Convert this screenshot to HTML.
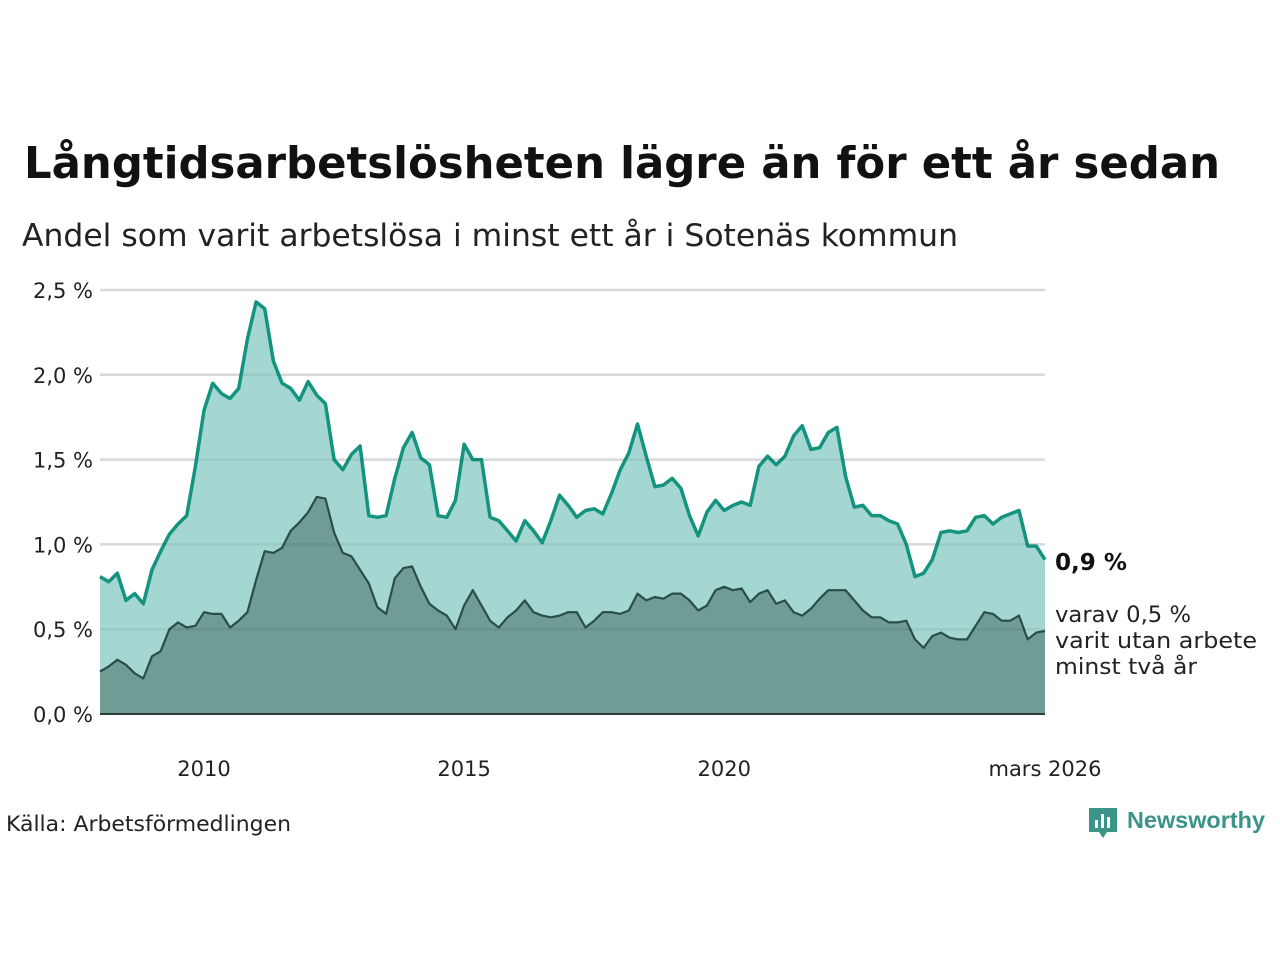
<!DOCTYPE html>
<html><head><meta charset="utf-8"><style>
html,body{margin:0;padding:0;background:#fff}
svg{display:block;font-family:"DejaVu Sans","Liberation Sans",sans-serif}
</style></head><body>
<svg id="chart" width="1280" height="960" viewBox="0 0 1280 960" xmlns="http://www.w3.org/2000/svg">
<text x="24" y="178" font-size="44" font-weight="bold" fill="#111" textLength="1196" lengthAdjust="spacingAndGlyphs">Långtidsarbetslösheten lägre än för ett år sedan</text>
<text x="22" y="246" font-size="31" fill="#222" textLength="936" lengthAdjust="spacingAndGlyphs">Andel som varit arbetslösa i minst ett år i Sotenäs kommun</text>
<g id="grid"></g>
<g id="areas"></g>
<g id="yticks"></g>
<g id="xticks"></g>
<text x="1055" y="570" font-size="23" font-weight="bold" fill="#111" textLength="72" lengthAdjust="spacingAndGlyphs">0,9 %</text>
<g font-size="22" fill="#222">
<text x="1055" y="622" textLength="136" lengthAdjust="spacingAndGlyphs">varav 0,5 %</text>
<text x="1055" y="648" textLength="202" lengthAdjust="spacingAndGlyphs">varit utan arbete</text>
<text x="1055" y="674" textLength="142" lengthAdjust="spacingAndGlyphs">minst två år</text>
</g>
<text x="6" y="831" font-size="21" fill="#222" textLength="285" lengthAdjust="spacingAndGlyphs">Källa: Arbetsförmedlingen</text>
<g>
<path d="M1089 808 h28 v24 h-10 l-4 6 l-4 -6 h-10 z" fill="#3a9488"/>
<rect x="1095" y="820" width="3" height="8" fill="#fff"/><rect x="1101" y="814" width="3" height="14" fill="#fff"/><rect x="1107" y="817" width="3" height="11" fill="#fff"/>
<text x="1127" y="828" font-size="23" font-weight="bold" fill="#3a9488" font-family="Liberation Sans, sans-serif" textLength="138" lengthAdjust="spacingAndGlyphs">Newsworthy</text>
</g>
</svg>
<script>
const totalValues=[0.81,0.78,0.83,0.67,0.71,0.65,0.85,0.96,1.06,1.12,
1.17,1.46,1.79,1.95,1.89,1.86,1.92,2.21,2.43,2.39,
2.08,1.95,1.92,1.85,1.96,1.88,1.83,1.50,1.44,1.53,
1.58,1.17,1.16,1.17,1.39,1.57,1.66,1.51,1.47,1.17,
1.16,1.26,1.59,1.50,1.50,1.16,1.14,1.08,1.02,1.14,
1.08,1.01,1.14,1.29,1.23,1.16,1.20,1.21,1.18,1.30,
1.44,1.54,1.71,1.52,1.34,1.35,1.39,1.33,1.17,1.05,
1.19,1.26,1.20,1.23,1.25,1.23,1.46,1.52,1.47,1.52,
1.64,1.70,1.56,1.57,1.66,1.69,1.40,1.22,1.23,1.17,
1.17,1.14,1.12,1.00,0.81,0.83,0.91,1.07,1.08,1.07,
1.08,1.16,1.17,1.12,1.16,1.18,1.20,0.99,0.99,0.91];
const subsetValues=[0.25,0.28,0.32,0.29,0.24,0.21,0.34,0.37,0.50,0.54,
0.51,0.52,0.60,0.59,0.59,0.51,0.55,0.60,0.79,0.96,
0.95,0.98,1.08,1.13,1.19,1.28,1.27,1.07,0.95,0.93,
0.85,0.77,0.63,0.59,0.80,0.86,0.87,0.75,0.65,0.61,
0.58,0.50,0.64,0.73,0.64,0.55,0.51,0.57,0.61,0.67,
0.60,0.58,0.57,0.58,0.60,0.60,0.51,0.55,0.60,0.60,
0.59,0.61,0.71,0.67,0.69,0.68,0.71,0.71,0.67,0.61,
0.64,0.73,0.75,0.73,0.74,0.66,0.71,0.73,0.65,0.67,
0.60,0.58,0.62,0.68,0.73,0.73,0.73,0.67,0.61,0.57,
0.57,0.54,0.54,0.55,0.44,0.39,0.46,0.48,0.45,0.44,
0.44,0.52,0.60,0.59,0.55,0.55,0.58,0.44,0.48,0.49];
const startYear=2008, monthStep=2;
const yTickValues=[0,0.5,1,1.5,2,2.5];
const yTickLabels=["0,0 %","0,5 %","1,0 %","1,5 %","2,0 %","2,5 %"];
const xTickDates=[2010,2015,2020,2026+2/12];
const xTickLabels=["2010","2015","2020","mars 2026"];

const NS="http://www.w3.org/2000/svg";
const X0=100,X1=1045,Y0=714,YPER=169.6;
const endDate=startYear+((totalValues.length-1)*monthStep)/12;
const xScale=d=>X0+(d-startYear)/(endDate-startYear)*(X1-X0);
const yScale=v=>Y0-v*YPER;
const dateAt=i=>startYear+i*monthStep/12;
function mk(tag,attrs,parent){const e=document.createElementNS(NS,tag);for(const k in attrs)e.setAttribute(k,attrs[k]);parent.appendChild(e);return e;}

const grid=document.getElementById('grid');
yTickValues.forEach((v,i)=>{
 if(v===0)return;
 const l=mk('line',{x1:X0,x2:X1,y1:yScale(v),y2:yScale(v),stroke:'#e6e6ea','stroke-width':2.5},grid);
 
 
});
const yt=document.getElementById('yticks');
yTickValues.forEach((v,i)=>{
 const t=mk('text',{x:93,y:yScale(v)+8,'text-anchor':'end','font-size':21,fill:'#222'},yt);
 t.textContent=yTickLabels[i];
 
 
});
const xt=document.getElementById('xticks');
xTickDates.forEach((d,i)=>{
 const t=mk('text',{x:xScale(d),y:776,'text-anchor':'middle','font-size':21,fill:'#222'},xt);
 t.textContent=xTickLabels[i];
 
 
});

function linePts(arr){return arr.map((v,i)=>xScale(dateAt(i)).toFixed(1)+','+yScale(v).toFixed(1));}
const ar=document.getElementById('areas');
function area(arr,fill,stroke,sw,name){
 const pts=linePts(arr);
 const a=mk('polygon',{points:X0+','+Y0+' '+pts.join(' ')+' '+xScale(dateAt(arr.length-1))+','+Y0,fill:fill},ar);
 
 
 const l=mk('polyline',{points:pts.join(' '),fill:'none',stroke:stroke,'stroke-width':sw,'stroke-linejoin':'round'},ar);
 
 
}
area(totalValues,'#a5d7d2','#14937f',3.5,'total-series');
area(subsetValues,'#6f9c95','#2a4d48',2.2,'subset-series');
const base=mk('line',{x1:X0,x2:X1,y1:Y0,y2:Y0,stroke:'#2a3f3c','stroke-width':2},ar);


yTickValues.forEach(v=>{
 if(v===0)return;
 const l=mk('line',{x1:X0,x2:X1,y1:yScale(v),y2:yScale(v),stroke:'#000','stroke-opacity':0.06,'stroke-width':2.5},ar);
 
 
});
</script>
</body></html>
